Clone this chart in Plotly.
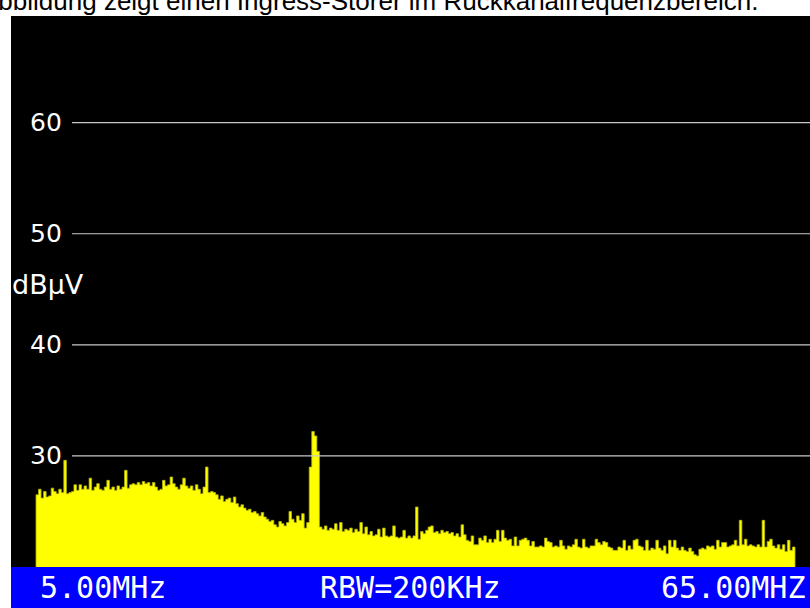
import plotly.graph_objects as go

# Spectrum levels in dBµV, one per 200 kHz bin from 5 MHz to 65 MHz
levels = [
    26.5, 27.0, 26.2, 26.8, 26.3, 26.4, 27.1, 26.8, 26.6, 27.0,
    26.7, 29.6, 26.6, 26.7, 26.8, 27.4, 26.9, 27.4, 27.0, 27.3,
    27.0, 28.0, 26.9, 27.2, 27.5, 27.0, 26.9, 27.2, 27.8, 27.0,
    27.2, 26.9, 27.3, 27.0, 27.2, 28.7, 27.1, 27.4, 27.5, 27.4,
    27.6, 27.4, 27.7, 27.5, 27.6, 27.3, 27.6, 27.2, 26.9, 27.0,
    27.8, 27.3, 27.4, 28.1, 27.5, 27.2, 27.0, 27.4, 28.0, 27.3,
    27.1, 27.3, 26.9, 27.4, 27.0, 26.6, 27.2, 29.0, 26.7, 26.8,
    26.7, 26.5, 26.1, 26.4, 25.9, 26.1, 26.2, 25.8, 26.3, 25.7,
    25.4, 25.6, 25.3, 25.1, 25.2, 24.9, 25.0, 24.8, 24.6, 24.9,
    24.5, 24.3, 24.1, 24.2, 23.8, 23.6, 24.1, 23.9, 23.7, 24.0,
    25.0, 24.3, 24.0, 24.6, 24.2, 24.8, 23.5, 24.0, 29.0, 32.2,
    31.8, 30.4, 23.6, 23.4, 23.7, 23.3, 23.5, 23.4, 23.9, 23.3,
    24.0, 23.2, 23.4, 23.3, 23.5, 23.1, 23.4, 23.2, 24.0, 23.0,
    23.6, 22.9, 23.2, 22.8, 22.9, 23.4, 22.7, 23.5, 22.8, 22.7,
    22.8, 23.7, 22.7, 22.6, 22.7, 23.3, 22.6, 22.8, 22.6, 22.8,
    25.4, 22.5, 23.2, 23.0, 23.3, 23.6, 23.7, 23.1, 23.2, 23.0,
    23.3, 23.1, 23.2, 23.0, 23.1, 22.8, 23.0, 22.7, 23.8, 22.9,
    22.4, 22.3, 22.8, 22.0, 22.0, 22.6, 22.4, 22.8, 22.2, 22.5,
    22.2, 22.5, 23.3, 22.3, 23.3, 22.6, 22.4, 22.5, 21.9, 22.7,
    21.9, 22.4, 22.5, 22.6, 22.4, 21.9, 22.3, 21.8, 21.8, 21.9,
    21.8, 22.6, 22.3, 22.2, 21.8, 21.9, 21.8, 22.4, 21.9, 21.6,
    21.9, 21.8, 22.0, 22.5, 21.8, 21.7, 22.5, 21.8, 21.7, 21.9,
    21.9, 22.5, 22.2, 22.0, 22.3, 22.2, 21.8, 21.7, 21.5, 21.5,
    21.8, 21.7, 22.4, 21.5, 21.9, 21.6, 22.4, 22.5, 21.9, 21.8,
    21.5, 22.4, 21.5, 21.7, 21.6, 22.4, 21.7, 21.5, 21.9, 21.2,
    22.4, 21.8, 22.4, 21.7, 21.5, 21.8, 21.5, 21.4, 21.7, 21.4,
    21.1, 21.0, 21.6, 21.7, 21.6, 21.9, 21.8, 21.9, 21.6, 22.4,
    21.8, 22.2, 22.2, 21.8, 21.9, 22.0, 22.4, 21.9, 24.2, 22.0,
    22.5, 21.9, 22.0, 21.9, 21.8, 22.0, 21.8, 24.2, 21.8, 22.3,
    22.5, 21.9, 21.7, 22.0, 21.6, 22.0, 21.4, 22.4, 21.5, 21.8,
]
f_start = 5.0
f_stop = 65.0
bin_width = 0.2
y_floor = 20.0

grid_values = [30, 40, 50, 60]
grid_labels = ["30", "40", "50", "60"]
unit_label = "dBµV"
unit_level = 45.4
footer_left = "5.00MHz"
footer_mid = "RBW=200KHz"
footer_right = "65.00MHZ"
caption = "Abbildung zeigt einen Ingress-Störer im Rückkanalfrequenzbereich."

# step outline built from the bins (left edges, plus closing point)
edges = [f_start + bin_width * i for i in range(len(levels))]
step_x = [f_start] + edges + [f_stop, f_stop]
step_y = [y_floor] + levels + [levels[-1], y_floor]

W, H = 810, 608
L, R, T, B = 11, 0, 16, 41
pw = W - L - R
ph = H - T - B

def px(xpix):
    return (xpix - L) / pw

def py(ypix):
    return (H - B - ypix) / ph

fig = go.Figure()
fig.add_trace(go.Scatter(
    x=step_x, y=step_y, mode="lines",
    line=dict(shape="hv", color="#b4b400", width=0.8),
    fill="toself", fillcolor="#ffff00",
    hoverinfo="skip",
))

shapes = []
annotations = []
shapes.append(dict(type="rect", xref="paper", yref="paper",
                   x0=0, x1=1, y0=py(H), y1=py(H - B), fillcolor="#0000ff",
                   line=dict(width=0), layer="above"))
for v, lab in zip(grid_values, grid_labels):
    shapes.append(dict(type="line", xref="paper", yref="y",
                       x0=px(72), x1=1, y0=v, y1=v,
                       line=dict(color="#c8c8c8", width=1.2), layer="above"))
    annotations.append(dict(text=lab, xref="paper", yref="y", x=px(64), y=v,
                            xanchor="right", yanchor="middle", showarrow=False,
                            font=dict(family="DejaVu Sans", size=25, color="white")))
annotations.append(dict(text=unit_label, xref="paper", yref="y", x=px(10), y=unit_level,
                        xanchor="left", yanchor="middle", showarrow=False,
                        font=dict(family="DejaVu Sans", size=27, color="white")))

foot_font = dict(family="DejaVu Sans Mono", size=30, color="white")
annotations.append(dict(text=footer_left, xref="paper", yref="paper", x=px(38), y=py(587),
                        xanchor="left", yanchor="middle", showarrow=False, font=foot_font))
annotations.append(dict(text=footer_mid, xref="paper", yref="paper", x=px(410), y=py(587),
                        xanchor="center", yanchor="middle", showarrow=False, font=foot_font))
annotations.append(dict(text=footer_right, xref="paper", yref="paper", x=px(659), y=py(587),
                        xanchor="left", yanchor="middle", showarrow=False, font=foot_font))
annotations.append(dict(text=caption, xref="paper", yref="paper", x=px(-21), y=py(1),
                        xanchor="left", yanchor="middle", showarrow=False,
                        font=dict(family="Liberation Sans", size=26, color="black")))

fig.update_layout(
    width=W, height=H,
    margin=dict(l=L, r=R, t=T, b=B, pad=0),
    paper_bgcolor="white", plot_bgcolor="black",
    showlegend=False,
    xaxis=dict(range=[f_start - 25 / 12.65, f_stop + 15 / 12.65], visible=False, fixedrange=True),
    yaxis=dict(range=[y_floor, 69.6], visible=False, fixedrange=True),
    shapes=shapes, annotations=annotations,
)

fig.write_html("out.html")
